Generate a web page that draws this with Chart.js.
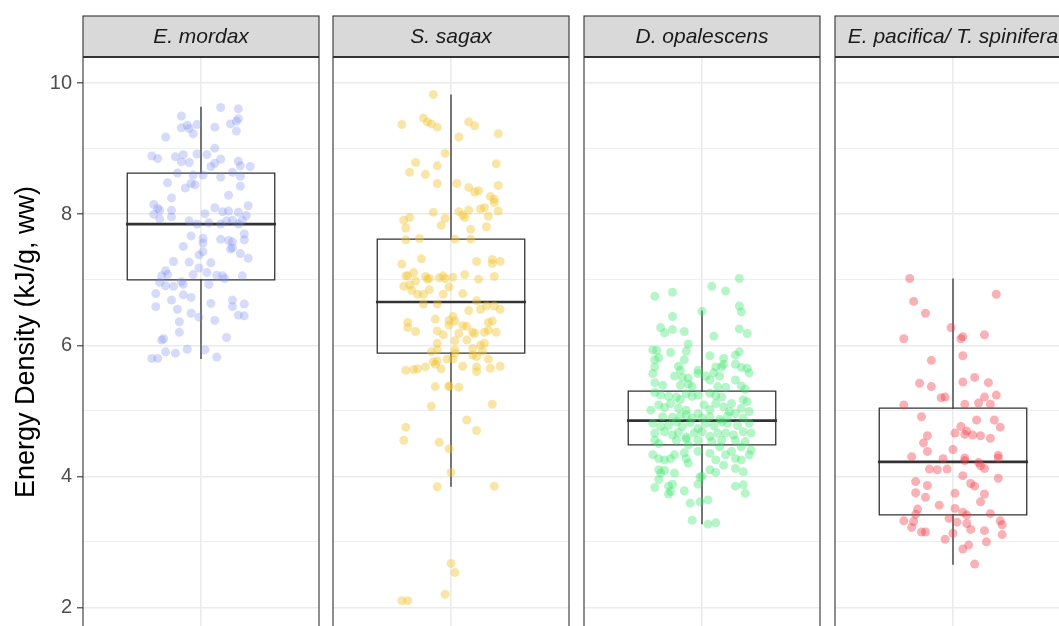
<!DOCTYPE html>
<html>
<head>
<meta charset="utf-8">
<script src="https://cdn.jsdelivr.net/npm/chart.js@4.4.1/dist/chart.umd.min.js"></script>
<style>
  html, body { margin: 0; padding: 0; background: #fff; overflow: hidden; width: 1059px; height: 626px; }
  canvas { position: absolute; top: 0; }
</style>
</head>
<body>
<canvas id="panel0"></canvas>
<canvas id="panel1"></canvas>
<canvas id="panel2"></canvas>
<canvas id="panel3"></canvas>
<script>
const categories = ['E. mordax', 'S. sagax', 'D. opalescens', 'E. pacifica/ T. spinifera'];
const yMajorTicks = [2, 4, 6, 8, 10];
const yMinorTicks = [3, 5, 7, 9];
const yTitle = 'Energy Density (kJ/g, ww)';

// box statistics per species
const boxLower  = [5.80, 3.85, 3.28, 2.66];
const boxQ1     = [7.00, 5.88, 4.48, 3.41];
const boxMedian = [7.85, 6.66, 4.85, 4.22];
const boxQ3     = [8.63, 7.62, 5.30, 5.04];
const boxUpper  = [9.63, 9.82, 6.52, 7.01];

// jittered observations: [horizontal jitter, energy density]
const mordaxPoints = [
  [0.10,9.63],[0.19,9.61],[-0.10,9.50],[0.19,9.46],[0.18,9.42],[0.15,9.38],[-0.07,9.36],[-0.10,9.32],[-0.02,9.37],[-0.06,9.31],
  [0.07,9.33],[0.18,9.27],[-0.04,9.23],[-0.18,9.18],[0.07,9.01],[-0.25,8.89],[-0.22,8.85],[-0.13,8.88],[-0.09,8.91],[-0.10,8.80],
  [-0.06,8.79],[-0.02,8.92],[0.03,8.91],[0.10,8.84],[0.07,8.78],[0.05,8.73],[0.19,8.81],[0.20,8.74],[0.25,8.73],[-0.12,8.63],
  [-0.04,8.60],[0.01,8.60],[0.10,8.57],[0.16,8.64],[0.20,8.58],[-0.17,8.48],[-0.05,8.47],[-0.03,8.45],[-0.08,8.40],[0.20,8.43],
  [-0.15,8.25],[0.14,8.29],[-0.24,8.15],[-0.22,8.09],[-0.21,8.06],[-0.15,8.06],[-0.15,7.96],[-0.21,7.93],[-0.24,8.00],[0.07,8.10],
  [0.02,8.01],[0.11,8.04],[0.14,8.05],[0.19,8.03],[0.24,8.13],[0.23,7.98],[0.21,7.91],[-0.06,7.90],[-0.02,7.85],[0.04,7.87],
  [0.10,7.85],[0.13,7.90],[0.16,7.91],[0.19,7.85],[-0.05,7.67],[0.01,7.63],[0.01,7.56],[0.10,7.62],[0.14,7.60],[0.16,7.58],
  [0.22,7.61],[0.22,7.70],[-0.09,7.51],[0.01,7.43],[0.15,7.47],[0.16,7.49],[0.20,7.40],[0.24,7.33],[-0.01,7.38],[-0.14,7.28],
  [-0.06,7.27],[0.05,7.26],[-0.18,7.14],[-0.20,7.06],[-0.17,7.08],[-0.01,7.18],[0.03,7.11],[-0.04,7.08],[0.08,7.07],[0.11,7.06],
  [0.12,7.02],[0.21,7.06],[-0.21,6.96],[-0.18,6.91],[-0.14,6.90],[-0.10,6.97],[-0.09,6.93],[0.04,6.93],[-0.23,6.79],[-0.09,6.77],
  [-0.05,6.73],[-0.23,6.59],[-0.15,6.69],[-0.12,6.55],[0.05,6.64],[0.16,6.69],[0.16,6.59],[0.22,6.63],[-0.05,6.49],[-0.01,6.43],
  [0.07,6.38],[0.19,6.46],[0.22,6.45],[-0.11,6.36],[-0.11,6.20],[-0.19,6.10],[-0.20,6.08],[0.13,6.12],[-0.25,5.80],[-0.22,5.80],
  [-0.18,5.90],[-0.13,5.88],[-0.07,5.94],[0.02,5.93],[0.08,5.82]
];
const sagaxPoints = [
  [-0.09,9.83],[-0.25,9.37],[-0.14,9.47],[-0.12,9.41],[-0.10,9.38],[-0.07,9.33],[0.09,9.41],[0.12,9.35],[0.04,9.18],[0.24,9.23],
  [-0.03,8.93],[-0.18,8.79],[-0.21,8.64],[-0.13,8.61],[-0.07,8.74],[-0.07,8.47],[0.23,8.77],[0.24,8.44],[0.03,8.47],[0.09,8.41],
  [0.12,8.34],[0.14,8.36],[0.20,8.27],[0.22,8.18],[0.22,8.23],[-0.09,8.03],[-0.03,7.94],[-0.05,7.83],[-0.24,7.91],[-0.21,7.95],
  [-0.23,7.79],[0.04,8.04],[0.06,7.99],[0.09,8.06],[0.07,7.95],[0.15,8.08],[0.17,8.10],[0.19,7.97],[0.24,8.05],[0.18,7.81],
  [0.10,7.77],[-0.23,7.61],[-0.16,7.63],[0.02,7.62],[0.10,7.62],[-0.15,7.32],[-0.25,7.24],[0.13,7.28],[0.21,7.31],[0.21,7.25],
  [0.25,7.28],[-0.23,7.06],[-0.22,7.06],[-0.19,7.11],[-0.18,6.98],[-0.13,7.05],[-0.12,7.01],[-0.11,7.02],[-0.06,7.03],[-0.04,7.06],
  [-0.03,7.02],[0.01,7.04],[0.07,7.08],[0.14,7.01],[0.22,7.05],[-0.24,6.90],[-0.21,6.92],[-0.20,6.84],[-0.17,6.78],[-0.14,6.78],
  [-0.11,6.85],[-0.01,6.89],[-0.04,6.78],[0.06,6.79],[-0.14,6.63],[-0.07,6.63],[0.09,6.53],[0.13,6.68],[0.15,6.55],[0.18,6.60],
  [0.22,6.60],[0.25,6.55],[-0.22,6.35],[-0.22,6.27],[-0.18,6.21],[-0.08,6.40],[-0.01,6.38],[0.01,6.44],[0.02,6.37],[-0.01,6.31],
  [0.06,6.30],[0.08,6.29],[-0.07,6.22],[-0.04,6.16],[0.04,6.18],[0.11,6.20],[0.12,6.18],[0.17,6.20],[0.19,6.35],[0.21,6.37],
  [0.19,6.23],[0.23,6.20],[0.08,6.08],[0.02,6.07],[-0.07,6.03],[0.17,6.03],[-0.07,5.93],[-0.10,5.90],[0.02,5.93],[0.02,5.88],
  [0.11,5.95],[0.11,5.85],[0.13,5.83],[0.15,6.00],[0.16,5.91],[0.19,5.79],[-0.09,5.75],[-0.07,5.76],[-0.08,5.71],[-0.05,5.64],
  [-0.02,5.79],[0.01,5.79],[-0.23,5.62],[-0.19,5.63],[-0.17,5.64],[-0.13,5.67],[0.06,5.68],[0.13,5.67],[0.13,5.60],[0.20,5.65],
  [0.25,5.68],[-0.08,5.37],[-0.01,5.38],[-0.01,5.37],[0.04,5.36],[-0.10,5.07],[0.21,5.10],[-0.23,4.75],[-0.24,4.55],[0.08,4.86],
  [0.13,4.70],[-0.06,4.52],[-0.01,4.42],[0.00,4.06],[-0.07,3.84],[0.22,3.85],[0.00,2.67],[0.02,2.53],[-0.03,2.20],[-0.25,2.10],
  [-0.22,2.10]
];
const opalescensPoints = [
  [0.19,7.02],[0.05,6.90],[0.12,6.83],[-0.24,6.75],[-0.15,6.81],[0.19,6.60],[0.20,6.51],[0.00,6.52],[-0.15,6.44],[-0.21,6.27],
  [-0.19,6.19],[-0.15,6.24],[-0.09,6.21],[0.06,6.14],[0.19,6.25],[0.23,6.18],[-0.07,6.02],[-0.25,5.93],[-0.23,5.92],[-0.16,5.89],
  [-0.08,5.91],[-0.24,5.78],[-0.22,5.81],[-0.09,5.78],[0.04,5.84],[0.11,5.80],[0.17,5.85],[0.19,5.90],[-0.24,5.67],[-0.25,5.57],
  [-0.12,5.68],[-0.11,5.62],[-0.02,5.62],[0.02,5.53],[0.07,5.67],[0.06,5.58],[0.10,5.67],[0.11,5.71],[0.17,5.71],[0.20,5.66],
  [0.23,5.65],[0.24,5.58],[-0.14,5.53],[-0.10,5.51],[-0.07,5.50],[-0.02,5.57],[0.09,5.53],[0.17,5.47],[-0.24,5.43],[-0.20,5.39],
  [-0.11,5.39],[-0.07,5.41],[-0.05,5.37],[0.04,5.47],[0.08,5.37],[0.12,5.36],[0.20,5.38],[0.22,5.33],
  [-0.24,5.28],[-0.21,5.24],[-0.17,5.22],[-0.13,5.21],[-0.11,5.17],[-0.08,5.26],[-0.05,5.22],[-0.02,5.24],[0.04,5.27],[0.07,5.23],
  [0.10,5.21],[0.15,5.11],[0.21,5.17],[0.23,5.14],[-0.26,5.01],[-0.22,5.09],[-0.19,5.05],[-0.16,5.11],[-0.12,5.04],[-0.08,5.01],
  [-0.08,4.94],[-0.02,4.96],[0.01,5.09],[0.04,5.02],[0.07,5.11],[0.11,5.06],[0.14,4.99],[0.17,4.96],[0.20,5.04],[0.24,4.99],
  [-0.20,4.91],[-0.15,4.90],[-0.11,4.92],[-0.05,4.89],[0.00,4.89],[0.04,4.91],[0.09,4.87],[0.13,4.92],[0.21,4.89],[-0.25,4.81],
  [-0.21,4.76],[-0.17,4.78],[-0.13,4.83],[-0.10,4.76],[-0.06,4.82],[-0.02,4.73],[0.02,4.81],[0.06,4.77],[0.10,4.83],[0.13,4.81],
  [0.18,4.78],[0.24,4.81],[-0.24,4.66],[-0.19,4.68],[-0.15,4.63],[-0.12,4.67],[-0.08,4.60],[-0.04,4.66],[0.00,4.68],[0.04,4.61],
  [0.08,4.66],[0.12,4.66],[0.16,4.63],[0.21,4.68],[0.25,4.66],[-0.24,4.55],[-0.22,4.50],[-0.13,4.55],[-0.08,4.57],[-0.02,4.55],
  [0.05,4.53],[0.10,4.55],[0.17,4.55],[0.22,4.53],[-0.07,4.48],[0.09,4.45],[0.20,4.45],[-0.25,4.33],[-0.22,4.27],[-0.19,4.25],
  [-0.16,4.27],[-0.14,4.33],[-0.09,4.36],[-0.07,4.20],[-0.08,4.27],[-0.02,4.38],[0.04,4.35],[0.07,4.25],[0.12,4.33],[0.15,4.38],
  [0.17,4.27],[0.20,4.25],[0.24,4.33],[0.25,4.40],[-0.22,4.10],[-0.21,4.05],[-0.19,4.09],[-0.14,4.05],[0.04,4.10],[0.07,4.06],
  [0.11,4.17],[0.17,4.12],[0.21,4.07],[-0.01,3.99],[-0.22,3.95],[-0.24,3.83],[-0.17,3.85],[-0.15,3.88],[-0.17,3.73],[-0.16,3.77],
  [-0.09,3.78],[-0.02,3.88],[0.00,4.00],[0.17,3.85],[0.21,3.87],[0.22,3.74],[-0.06,3.59],[-0.01,3.61],[0.03,3.64],[-0.05,3.33],
  [0.03,3.27],[0.07,3.29]
];
const euphausiidPoints = [
  [-0.22,7.02],[0.22,6.78],[-0.20,6.67],[-0.14,6.49],[-0.01,6.27],[-0.25,6.10],[0.04,6.10],[0.05,6.13],[0.16,6.16],[0.05,5.84],
  [-0.11,5.77],[-0.17,5.42],[-0.11,5.37],[0.05,5.44],[0.11,5.51],[0.18,5.43],[-0.06,5.20],[-0.04,5.21],[-0.25,5.09],[0.06,5.10],
  [0.13,5.12],[0.16,5.21],[0.19,5.10],[0.22,5.24],[-0.16,4.91],[0.12,4.86],[0.21,4.86],[0.24,4.75],[0.04,4.76],[0.01,4.66],
  [0.06,4.64],[0.07,4.69],[0.10,4.63],[0.14,4.62],[0.19,4.58],[-0.13,4.62],[-0.15,4.51],[-0.13,4.38],[0.00,4.41],[-0.21,4.30],
  [-0.05,4.27],[0.06,4.24],[0.06,4.28],[0.13,4.21],[0.14,4.16],[0.16,4.12],[0.23,4.32],[0.23,4.28],[-0.12,4.11],[-0.08,4.10],
  [-0.03,4.11],[0.05,4.01],[0.23,3.97],[-0.19,3.92],[-0.13,3.86],[0.09,3.89],[0.11,3.85],[-0.19,3.75],[-0.14,3.68],[0.01,3.74],
  [0.16,3.73],[0.14,3.61],[-0.07,3.56],[0.01,3.51],[-0.18,3.50],[-0.19,3.42],[0.05,3.45],[0.07,3.41],[0.19,3.43],[-0.25,3.32],
  [-0.20,3.31],[-0.02,3.36],[0.02,3.30],[0.07,3.28],[-0.21,3.22],[-0.16,3.15],[-0.14,3.15],[0.09,3.19],[0.16,3.17],[0.24,3.32],
  [0.25,3.26],[-0.04,3.04],[0.00,3.13],[0.17,3.00],[0.25,3.11],[0.05,2.89],[0.08,2.95],[0.11,2.66]
];

const pointSets = [mordaxPoints, sagaxPoints, opalescensPoints, euphausiidPoints];
const pointColors = ['rgba(120,135,240,0.3)', 'rgba(240,195,45,0.42)', 'rgba(60,230,110,0.38)', 'rgba(240,60,70,0.4)'];

// layout
const panelLeft = [83, 333, 584, 835];
const panelWidth = 236;
const stripTop = 16;
const stripBottom = 58;
const yMin = 1.715;
const yMax = 10.386;
const boxHalf = 0.375;
const fontFamily = '"Liberation Sans", Arial, Helvetica, sans-serif';

const panelFrame = {
    id: 'panelFrame',
    afterDraw(chart, args, opts) {
        const { ctx, chartArea: a } = chart;
        ctx.save();
        ctx.fillStyle = '#D9D9D9';
        ctx.fillRect(a.left, stripTop, a.right - a.left, stripBottom - stripTop);
        ctx.strokeStyle = '#333333';
        ctx.lineWidth = 1.1;
        ctx.strokeRect(a.left, stripTop, a.right - a.left, chart.height + 20);
        ctx.lineWidth = 2;
        ctx.beginPath();
        ctx.moveTo(a.left, stripBottom - 1);
        ctx.lineTo(a.right, stripBottom - 1);
        ctx.stroke();
        ctx.fillStyle = '#1A1A1A';
        ctx.font = 'italic 21px ' + fontFamily;
        ctx.textAlign = 'center';
        ctx.textBaseline = 'middle';
        ctx.fillText(opts.label, (a.left + a.right) / 2, (stripTop + stripBottom) / 2);
        ctx.restore();
    }
};

function lineSet(points, width) {
    return {
        data: points,
        showLine: true,
        borderColor: '#333333',
        borderWidth: width,
        borderCapStyle: 'square',
        pointRadius: 0,
        fill: false
    };
}

function noPadding(s) {
    s.paddingTop = 0;
    s.paddingBottom = 0;
    s.paddingLeft = 0;
    s.paddingRight = 0;
}

categories.forEach((name, i) => {
    const first = i === 0;
    const padL = first ? panelLeft[0] : 2;
    const canvas = document.getElementById('panel' + i);
    canvas.width = padL + panelWidth + 2;
    canvas.height = 626;
    canvas.style.left = (panelLeft[i] - padL) + 'px';

    const pts = pointSets[i].map(p => ({ x: 1 + p[0], y: p[1] }));
    const lo = 1 - boxHalf, hi = 1 + boxHalf;

    new Chart(canvas.getContext('2d'), {
        type: 'scatter',
        data: {
            datasets: [
                {
                    data: pts,
                    pointRadius: 4.5,
                    pointBorderWidth: 0,
                    pointBackgroundColor: pointColors[i],
                    backgroundColor: pointColors[i]
                },
                lineSet([{ x: lo, y: boxQ1[i] }, { x: hi, y: boxQ1[i] }, { x: hi, y: boxQ3[i] }, { x: lo, y: boxQ3[i] }, { x: lo, y: boxQ1[i] }], 1.3),
                lineSet([{ x: lo, y: boxMedian[i] }, { x: hi, y: boxMedian[i] }], 2.6),
                lineSet([{ x: 1, y: boxQ3[i] }, { x: 1, y: boxUpper[i] }], 1.3),
                lineSet([{ x: 1, y: boxLower[i] }, { x: 1, y: boxQ1[i] }], 1.3)
            ]
        },
        options: {
            responsive: false,
            animation: false,
            events: [],
            layout: {
                autoPadding: false,
                padding: { left: first ? 0 : 2, right: 2, top: stripBottom, bottom: 0 }
            },
            plugins: {
                legend: { display: false },
                tooltip: { enabled: false },
                panelFrame: { label: name }
            },
            scales: {
                x: {
                    type: 'linear',
                    min: 0.4,
                    max: 1.6,
                    afterBuildTicks: s => { s.ticks = [{ value: 1 }]; },
                    afterFit: s => { s.height = 0; noPadding(s); },
                    border: { display: false },
                    grid: { color: '#EBEBEB', lineWidth: 1.6, drawTicks: false },
                    ticks: { display: false }
                },
                y: {
                    type: 'linear',
                    min: yMin,
                    max: yMax,
                    afterBuildTicks: s => {
                        s.ticks = yMajorTicks.concat(yMinorTicks).sort((a, b) => a - b).map(v => ({ value: v }));
                    },
                    afterFit: s => { s.width = first ? panelLeft[0] : 0; noPadding(s); },
                    border: { display: false },
                    grid: {
                        color: '#EBEBEB',
                        lineWidth: c => (c.tick && yMajorTicks.includes(c.tick.value)) ? 1.6 : 0.8,
                        drawTicks: first,
                        tickLength: 6,
                        tickWidth: 1.1,
                        tickColor: c => (c.tick && yMajorTicks.includes(c.tick.value)) ? '#333333' : 'rgba(0,0,0,0)'
                    },
                    ticks: {
                        display: first,
                        padding: 5,
                        color: '#4D4D4D',
                        font: { family: fontFamily, size: 20 },
                        callback: v => yMajorTicks.includes(v) ? String(v) : ''
                    },
                    title: {
                        display: first,
                        text: yTitle,
                        color: '#000000',
                        font: { family: fontFamily, size: 27 },
                        padding: { top: 10, bottom: 0 }
                    }
                }
            }
        },
        plugins: [panelFrame]
    });
});
</script>
</body>
</html>
